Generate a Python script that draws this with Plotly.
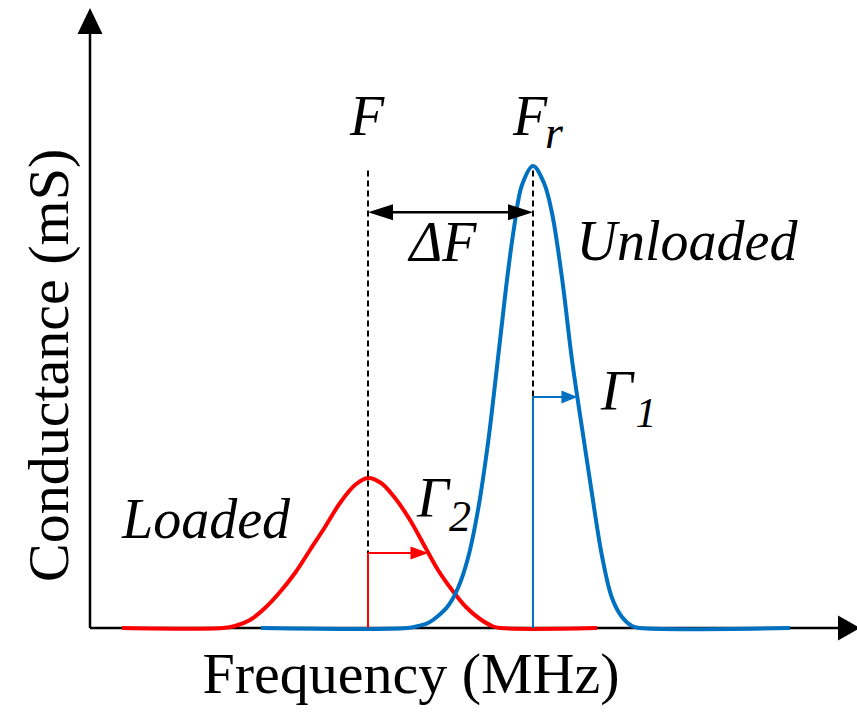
import plotly.graph_objects as go

# Conductance spectra (frequency in arbitrary units, conductance in arbitrary units)
loaded_freq = [32, 133, 145, 160, 175, 190, 205, 220, 235, 250, 265, 278, 291, 305,
               320, 334, 348, 362, 376, 390, 402, 410, 507]
loaded_cond = [0, 0, 2, 8, 20, 36, 55, 78, 101, 125, 143, 150, 145, 130,
               108, 83, 58, 38, 21, 9, 2, 0, 0]

unloaded_freq = [171, 317, 328, 338, 348, 358, 368, 378, 388, 398, 408, 416, 424, 432,
                 443, 454, 462, 472, 482, 492, 502, 512, 522, 532, 542, 550, 700]
unloaded_cond = [0, 0, 2, 5, 12, 22, 40, 70, 118, 185, 270, 340, 400, 443,
                 462, 445, 415, 350, 268, 200, 134, 72, 30, 11, 2, 0, 0]

RED = "#FF0000"
BLUE = "#0070C0"
SERIF = "Liberation Serif"


def peak_and_half_width(xs, ys):
    """Return peak position, half maximum and the right-hand half-max frequency."""
    top = max(ys)
    i = ys.index(top)
    half = top / 2.0
    for j in range(i, len(ys) - 1):
        if ys[j] >= half >= ys[j + 1]:
            t = (ys[j] - half) / (ys[j] - ys[j + 1])
            return xs[i], top, half, xs[j] + t * (xs[j + 1] - xs[j])
    return xs[i], top, half, xs[i]


f_load, top_load, half_load, hw_load = peak_and_half_width(loaded_freq, loaded_cond)
f_res, top_res, half_res, hw_res = peak_and_half_width(unloaded_freq, unloaded_cond)

fig = go.Figure()


def line(x0, y0, x1, y1, color="black", width=2, dash="solid"):
    fig.add_trace(go.Scatter(x=[x0, x1], y=[y0, y1], mode="lines", hoverinfo="skip",
                             line=dict(color=color, width=width, dash=dash)))


def head(tx, ty, dx, dy, length, half, color="black"):
    """Filled triangular arrow head with tip at (tx, ty) pointing along (dx, dy)."""
    bx, by = tx - dx * length, ty - dy * length
    px, py = -dy * half, dx * half
    fig.add_trace(go.Scatter(x=[tx, bx + px, bx - px, tx], y=[ty, by + py, by - py, ty],
                             mode="lines", fill="toself", fillcolor=color,
                             line=dict(color=color, width=0), hoverinfo="skip"))


# Axes with arrow heads
line(0, 0, 0, 596, width=2.5)
head(0, 620, 0, 1, 26, 12.5)
line(0, 0, 750, 0, width=2.5)
head(770, 0, 1, 0, 22, 12.5)

# Conductance curves
fig.add_trace(go.Scatter(x=loaded_freq, y=loaded_cond, mode="lines", name="Loaded",
                         line=dict(color=RED, width=4, shape="spline"),
                         hoverinfo="skip"))
fig.add_trace(go.Scatter(x=unloaded_freq, y=unloaded_cond, mode="lines", name="Unloaded",
                         line=dict(color=BLUE, width=4, shape="spline"),
                         hoverinfo="skip"))

# Guide lines at the two resonance peaks
guide_top = top_res * 0.99
line(f_load, guide_top, f_load, half_load, width=2, dash="6px,4px")
line(f_res, guide_top, f_res, half_res, width=2, dash="6px,4px")

# Frequency shift arrow
shift_y = top_res * 0.9
line(f_load + 20, shift_y, f_res - 20, shift_y, width=2.5)
head(f_load, shift_y, -1, 0, 25, 8)
head(f_res, shift_y, 1, 0, 25, 8)

# Half-width brackets
line(f_load, 0, f_load, half_load, color=RED, width=2)
line(f_load, half_load, hw_load - 12, half_load, color=RED, width=2)
head(hw_load, half_load, 1, 0, 18, 6.5, color=RED)

line(f_res, 0, f_res, half_res, color=BLUE, width=2)
line(f_res, half_res, hw_res - 10, half_res, color=BLUE, width=2)
head(hw_res, half_res, 1, 0, 16, 6.5, color=BLUE)


def X(px):
    return px - 90


def Y(py):
    return 628 - py


# Text labels drawn as a text trace (centre positions in pixel space)
labels = [
    ("<i>F</i>", 367, 121, 56),
    ("<i>F</i>", 530, 121, 56),
    ("<i>r</i>", 554, 136, 46),
    ("<i>ΔF</i>", 443, 247, 56),
    ("<i>Unloaded</i>", 687, 246, 56),
    ("<i>Γ</i>", 617, 396, 56),
    ("<i>1</i>", 646, 416, 42),
    ("<i>Γ</i>", 433, 503, 56),
    ("<i>2</i>", 460, 520, 44),
    ("<i>Loaded</i>", 206, 524, 56),
    ("Frequency (MHz)", 411, 678, 58),
]
fig.add_trace(go.Scatter(
    x=[X(c[1]) for c in labels], y=[Y(c[2]) for c in labels],
    text=[c[0] for c in labels], mode="text", textposition="middle center",
    textfont=dict(family=SERIF, size=[c[3] for c in labels], color="black"),
    hoverinfo="skip", cliponaxis=False,
))

fig.add_annotation(text="Conductance (mS)", x=X(48), y=Y(366), xref="x", yref="y",
                   xanchor="center", yanchor="middle", showarrow=False, textangle=-90,
                   font=dict(family=SERIF, size=58, color="black"))

fig.update_layout(
    width=857, height=714, autosize=False,
    margin=dict(l=0, r=0, t=0, b=0),
    plot_bgcolor="white",
    font=dict(family=SERIF, color="black"),
    showlegend=False,
    xaxis=dict(range=[-90, 767], visible=False),
    yaxis=dict(range=[-86, 628], visible=False),
)

fig.write_html("out.html")
